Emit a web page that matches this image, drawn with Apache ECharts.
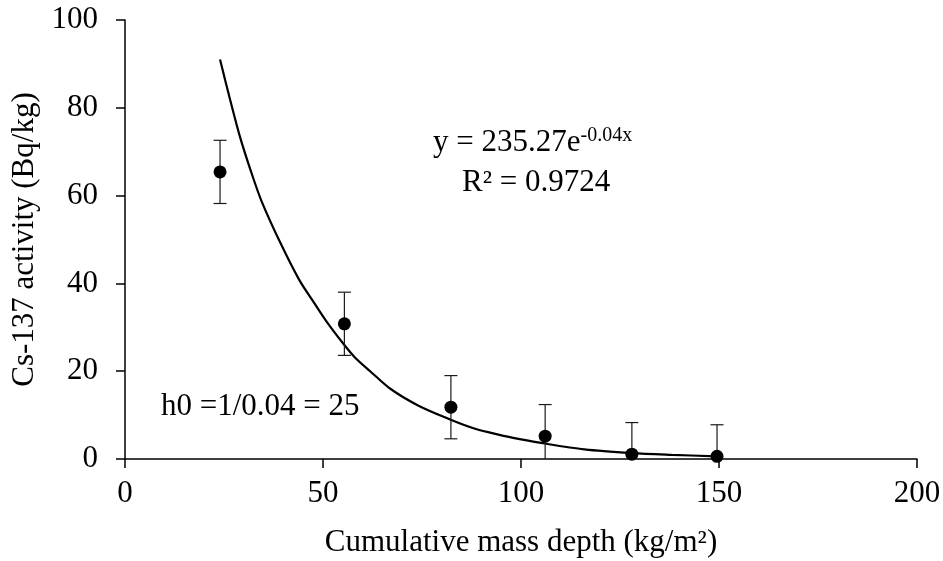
<!DOCTYPE html>
<html>
<head>
<meta charset="utf-8">
<script src="https://cdn.jsdelivr.net/npm/echarts@6/dist/echarts.min.js"></script>
<style>html,body{margin:0;padding:0;background:#fff;}#c{width:943px;height:561px;}</style>
</head>
<body>
<div id="c"></div>
<script>
// Measured points
const depth = [24.0, 55.4, 82.3, 106.1, 128.0, 149.5];
const activity = [65.4, 30.8, 11.8, 5.2, 1.1, 0.6];
const errors = [7.2, 7.2, 7.2, 7.2, 7.2, 7.2];
// Trendline
const fitX = [24, 26.5, 29, 32, 34.5, 39.2, 44, 47.6, 51, 55.2, 58, 61.9, 67, 74, 82.1, 88, 92.2, 98, 105.5, 116, 128, 138, 149.5];
const fitY = [91.0, 82.0, 73.5, 65.0, 58.7, 49.3, 40.8, 35.8, 31.2, 26.2, 23.2, 20.0, 16.0, 12.2, 9.0, 7.0, 6.0, 4.8, 3.6, 2.2, 1.35, 0.95, 0.6];
const xTicks = [0, 50, 100, 150, 200];
const yTicks = [0, 20, 40, 60, 80, 100];

const FONT = 'Liberation Serif';
const FS = 31;
const chart = echarts.init(document.getElementById('c'), null, {renderer: 'canvas'});

const pts = depth.map((x, i) => [x, activity[i]]);
const errData = depth.map((x, i) => [x, activity[i] - errors[i], activity[i] + errors[i]]);
const fit = fitX.map((x, i) => [x, fitY[i]]);

chart.setOption({
  animation: false,
  backgroundColor: '#ffffff',
  grid: {left: 125, right: 26, top: 20, bottom: 102, containLabel: false, outerBoundsMode: 'none'},
  xAxis: {
    type: 'value', min: xTicks[0], max: xTicks[xTicks.length - 1], interval: 50,
    name: 'Cumulative mass depth (kg/m²)', nameLocation: 'middle', nameGap: 68,
    nameTextStyle: {fontFamily: FONT, fontSize: FS, color: '#000'},
    axisLine: {onZero: false, lineStyle: {color: '#000', width: 1.5}},
    axisTick: {show: true, inside: false, length: 9, lineStyle: {color: '#000', width: 1.5}},
    axisLabel: {margin: 19, fontFamily: FONT, fontSize: FS, color: '#000'},
    splitLine: {show: false}
  },
  yAxis: {
    type: 'value', min: yTicks[0], max: yTicks[yTicks.length - 1], interval: 20,
    name: 'Cs-137 activity (Bq/kg)', nameLocation: 'middle', nameGap: 84, nameRotate: 90,
    nameTextStyle: {fontFamily: FONT, fontSize: FS, color: '#000'},
    axisLine: {show: true, lineStyle: {color: '#000', width: 1.5}},
    axisTick: {show: true, inside: false, length: 9, lineStyle: {color: '#000', width: 1.5}},
    axisLabel: {margin: 27, fontFamily: FONT, fontSize: FS, color: '#000'},
    splitLine: {show: false}
  },
  series: [
    {
      type: 'line', data: fit, smooth: 0.3, showSymbol: false, symbol: 'none',
      lineStyle: {color: '#000', width: 2.2}, z: 3
    },
    {
      type: 'custom', clip: true, z: 4,
      renderItem: function (params, api) {
        const x = api.value(0);
        const lo = api.coord([x, api.value(1)]);
        const hi = api.coord([x, api.value(2)]);
        const w = 6.5;
        const style = {stroke: '#1a1a1a', lineWidth: 1.2};
        return {
          type: 'group',
          children: [
            {type: 'line', shape: {x1: lo[0], y1: lo[1], x2: hi[0], y2: hi[1]}, style: style},
            {type: 'line', shape: {x1: hi[0] - w, y1: hi[1], x2: hi[0] + w, y2: hi[1]}, style: style},
            {type: 'line', shape: {x1: lo[0] - w, y1: lo[1], x2: lo[0] + w, y2: lo[1]}, style: style}
          ]
        };
      },
      encode: {x: 0, y: [1, 2]},
      data: errData
    },
    {
      type: 'scatter', data: pts, symbol: 'circle', symbolSize: 13,
      itemStyle: {color: '#000', opacity: 1}, z: 5
    }
  ],
  graphic: [
    {
      type: 'text', left: 433, top: 126, z: 10,
      style: {
        rich: {
          a: {fontFamily: FONT, fontSize: FS, fill: '#000'},
          s: {fontFamily: FONT, fontSize: 20, fill: '#000', verticalAlign: 'top', padding: [0, 0, 14, 0]}
        },
        text: '{a|y = 235.27e}{s|-0.04x}'
      }
    },
    {
      type: 'text', left: 462, top: 167, z: 10,
      style: {text: 'R² = 0.9724', fontFamily: FONT, fontSize: FS, fill: '#000'}
    },
    {
      type: 'text', left: 161, top: 391, z: 10,
      style: {text: 'h0 =1/0.04 = 25', fontFamily: FONT, fontSize: FS, fill: '#000'}
    }
  ]
});
</script>
</body>
</html>
